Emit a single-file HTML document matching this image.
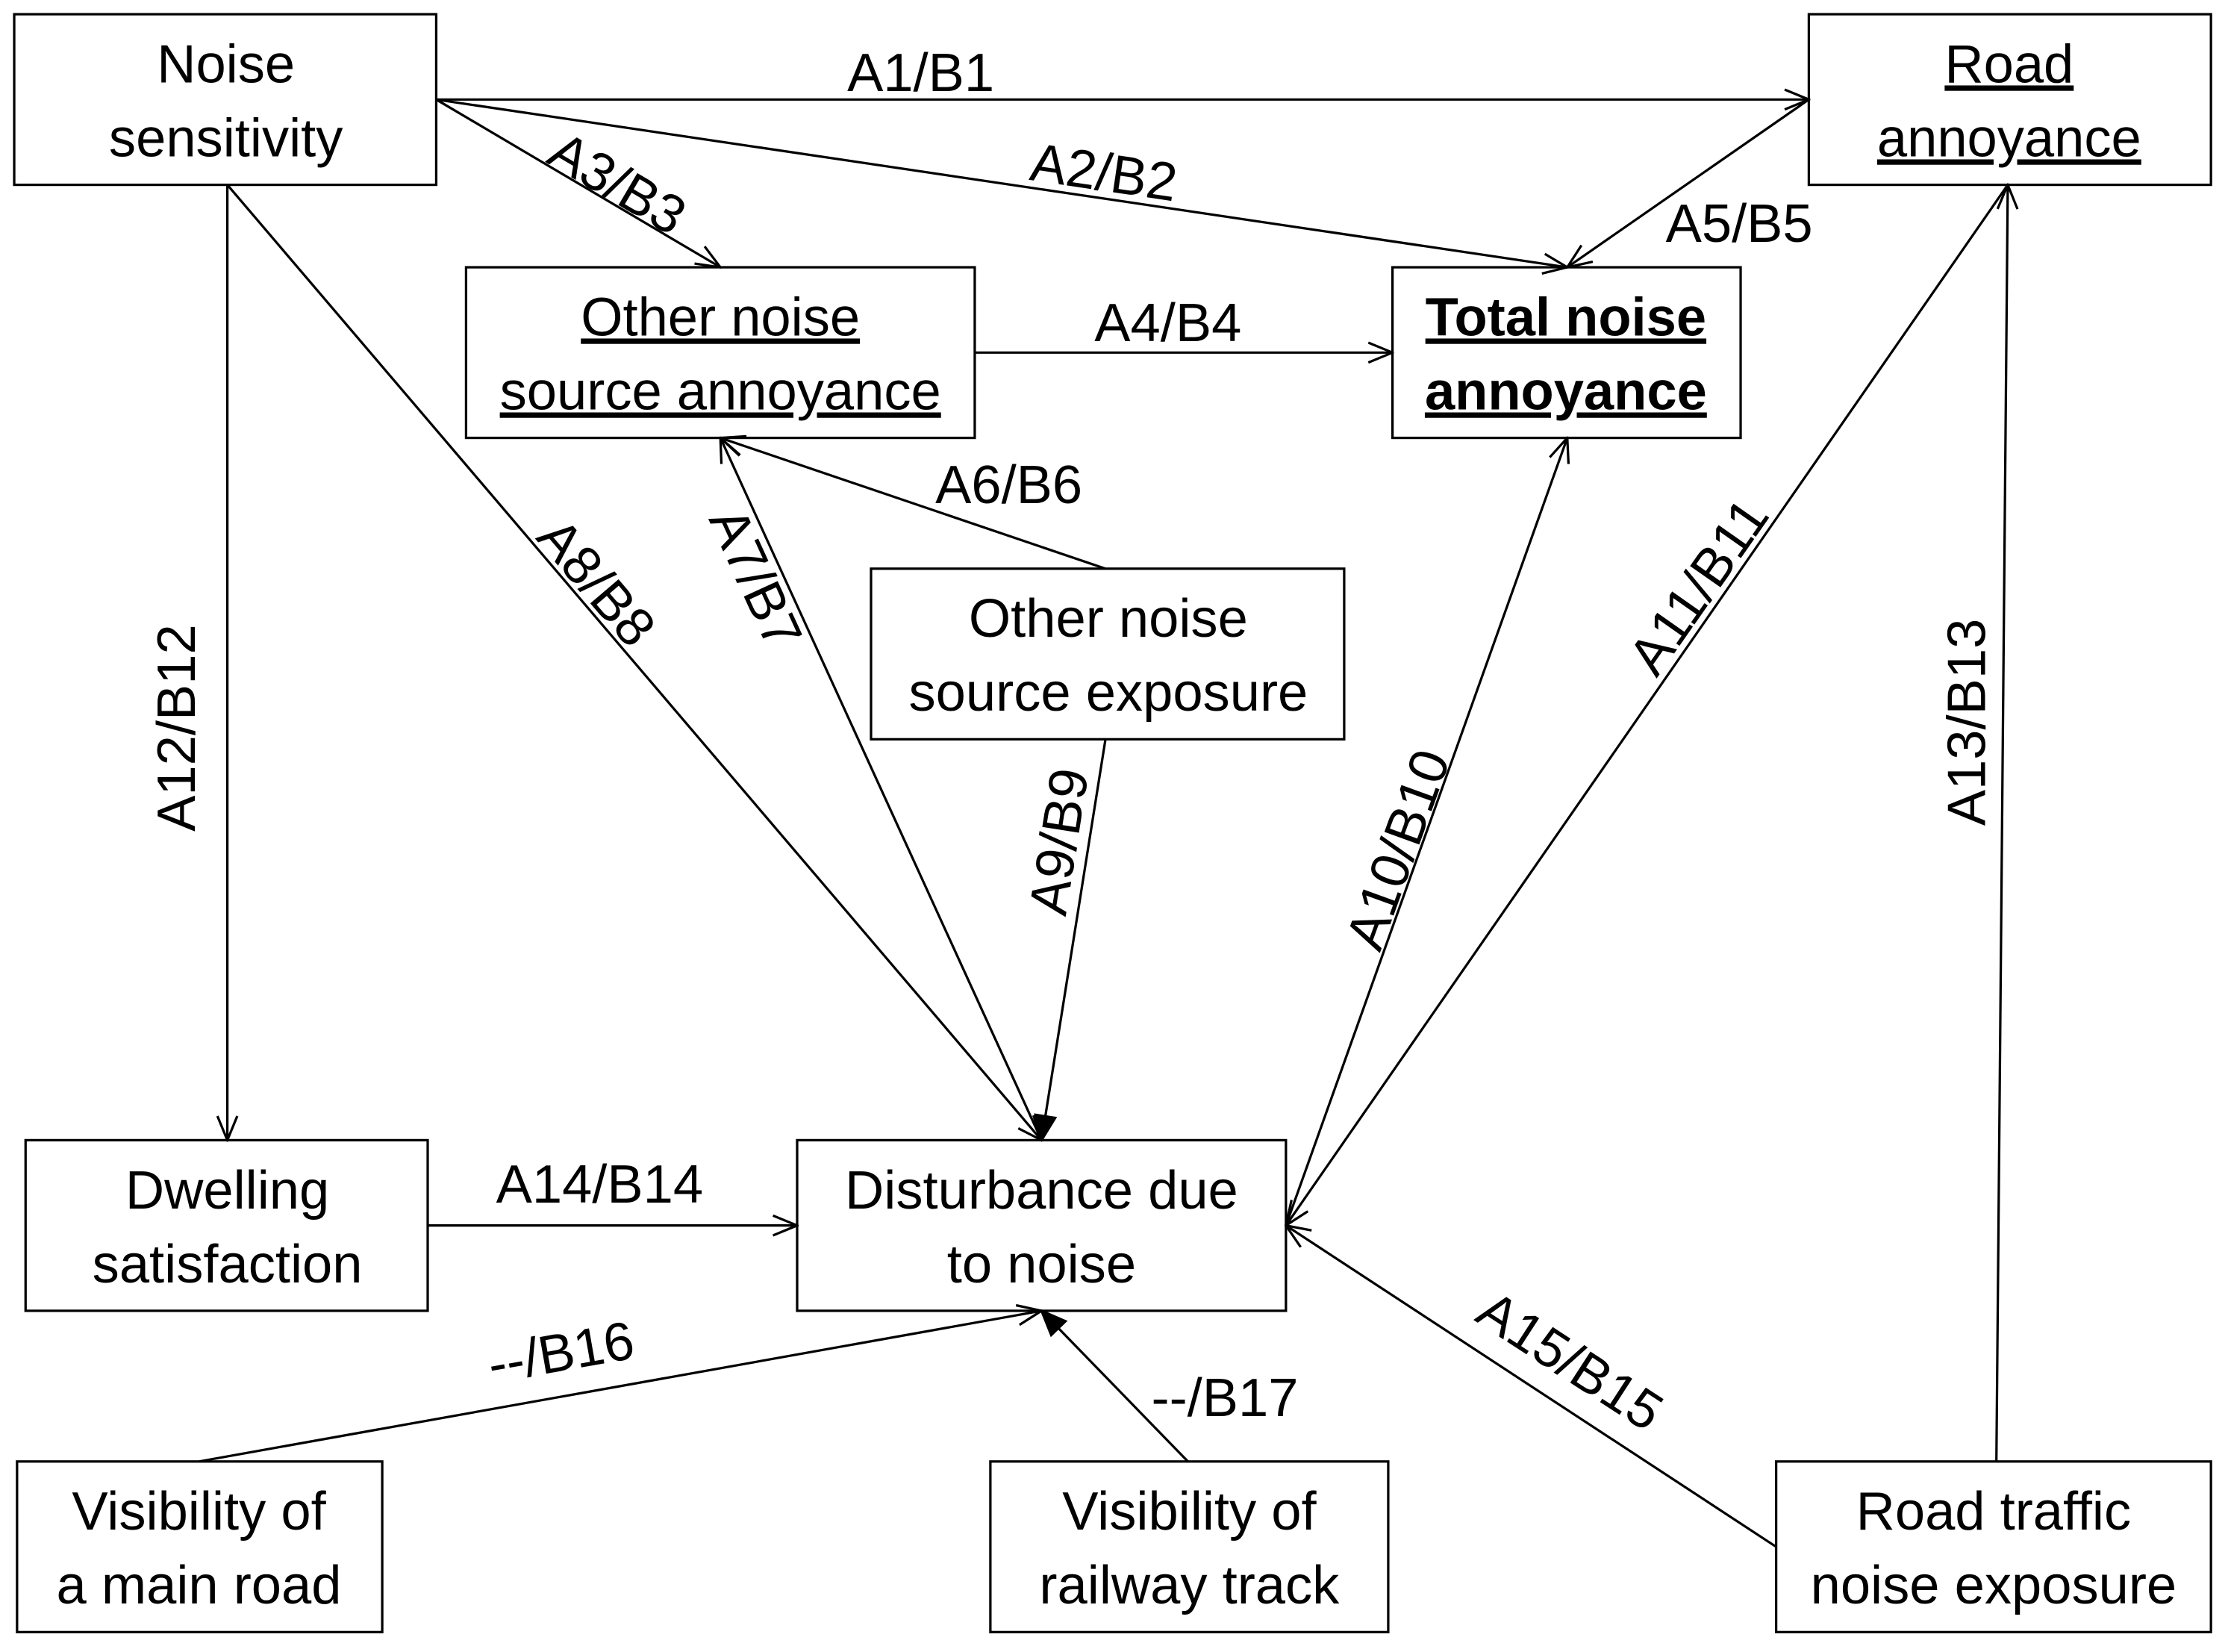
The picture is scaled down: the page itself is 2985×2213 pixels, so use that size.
<!DOCTYPE html>
<html><head><meta charset="utf-8"><style>
html,body{margin:0;padding:0;background:#fff;}
svg{display:block;}
text{font-family:"Liberation Sans",sans-serif;font-size:38px;fill:#000;}
</style></head><body>
<svg width="2985" height="2213" viewBox="0 0 1568 1162" preserveAspectRatio="none" xmlns="http://www.w3.org/2000/svg">
<defs>
<marker id="a" viewBox="0 0 20 20" refX="19" refY="10" markerWidth="20" markerHeight="20" markerUnits="userSpaceOnUse" orient="auto">
<path d="M2,3 L19,10 L2,17" fill="none" stroke="#000" stroke-width="1.7"/>
</marker>
<marker id="b" viewBox="0 0 20 20" refX="19" refY="10" markerWidth="20" markerHeight="20" markerUnits="userSpaceOnUse" orient="auto">
<path d="M2,3 L19,10 L2,17 Z" fill="#000" stroke="#000" stroke-width="1.7"/>
</marker>
</defs>
<g fill="#fff" stroke="#000" stroke-width="1.7">
<rect x="10" y="10" width="297" height="120"/>
<rect x="1273" y="10" width="283" height="120"/>
<rect x="328" y="188" width="358" height="120"/>
<rect x="980" y="188" width="245" height="120"/>
<rect x="613" y="400" width="333" height="120"/>
<rect x="18" y="802" width="283" height="120"/>
<rect x="561" y="802" width="344" height="120"/>
<rect x="12" y="1028" width="257" height="120"/>
<rect x="697" y="1028" width="280" height="120"/>
<rect x="1250" y="1028" width="306" height="120"/>
</g>
<g stroke="#000" stroke-width="1.7" fill="none">
<line x1="307" y1="70" x2="1273" y2="70" marker-end="url(#a)"/>
<line x1="307" y1="70" x2="1103" y2="188" marker-end="url(#a)"/>
<line x1="307" y1="70" x2="507" y2="188" marker-end="url(#a)"/>
<line x1="686" y1="248" x2="980" y2="248" marker-end="url(#a)"/>
<line x1="1273" y1="70" x2="1103" y2="188" marker-end="url(#a)"/>
<line x1="778" y1="400" x2="507" y2="308" marker-end="url(#a)"/>
<line x1="733" y1="802" x2="507" y2="308" marker-end="url(#a)"/>
<line x1="160" y1="130" x2="733" y2="802" marker-end="url(#a)"/>
<line x1="778" y1="520" x2="733" y2="802" marker-end="url(#b)"/>
<line x1="905" y1="862" x2="1103" y2="308" marker-end="url(#a)"/>
<line x1="1413" y1="130" x2="905" y2="862" marker-end="url(#a)"/>
<line x1="1250" y1="1088" x2="905" y2="862" marker-end="url(#a)"/>
<line x1="160" y1="130" x2="160" y2="802" marker-end="url(#a)"/>
<line x1="1405" y1="1028" x2="1413" y2="130" marker-end="url(#a)"/>
<line x1="301" y1="862" x2="561" y2="862" marker-end="url(#a)"/>
<line x1="140" y1="1028" x2="733" y2="922" marker-end="url(#a)"/>
<line x1="836" y1="1028" x2="733" y2="922" marker-end="url(#b)"/>
</g>
<g text-anchor="middle">
<text x="159" y="58">Noise</text><text x="159" y="110">sensitivity</text>
<text x="1414" y="58" text-decoration="underline">Road</text><text x="1414" y="110" text-decoration="underline">annoyance</text>
<text x="507" y="236" text-decoration="underline">Other noise</text><text x="507" y="288" text-decoration="underline">source annoyance</text>
<text x="1102" y="236" font-weight="bold" text-decoration="underline">Total noise</text><text x="1102" y="288" font-weight="bold" text-decoration="underline">annoyance</text>
<text x="780" y="448">Other noise</text><text x="780" y="500">source exposure</text>
<text x="160" y="850">Dwelling</text><text x="160" y="902">satisfaction</text>
<text x="733" y="850">Disturbance due</text><text x="733" y="902">to noise</text>
<text x="140" y="1076">Visibility of</text><text x="140" y="1128">a main road</text>
<text x="837" y="1076">Visibility of</text><text x="837" y="1128">railway track</text>
<text x="1403" y="1076">Road traffic</text><text x="1403" y="1128">noise exposure</text>

<text x="648" y="64">A1/B1</text>
<text transform="translate(775,134) rotate(8.4)">A2/B2</text>
<text transform="translate(428,140) rotate(30.5)">A3/B3</text>
<text x="822" y="240">A4/B4</text>
<text x="1224" y="170">A5/B5</text>
<text x="710" y="354">A6/B6</text>
<text transform="translate(520,412) rotate(65.4)">A7/B7</text>
<text transform="translate(410,418) rotate(49.5)">A8/B8</text>
<text transform="translate(758,594) rotate(-81)">A9/B9</text>
<text transform="translate(996,602) rotate(-70)">A10/B10</text>
<text transform="translate(1206,420) rotate(-55)">A11/B11</text>
<text transform="translate(137,512) rotate(-90)">A12/B12</text>
<text transform="translate(1397,508) rotate(-90)">A13/B13</text>
<text x="422" y="846">A14/B14</text>
<text transform="translate(1098,968) rotate(33)">A15/B15</text>
<text transform="translate(397,964) rotate(-10)">--/B16</text>
<text x="862" y="996">--/B17</text>
</g>
</svg>
</body></html>
